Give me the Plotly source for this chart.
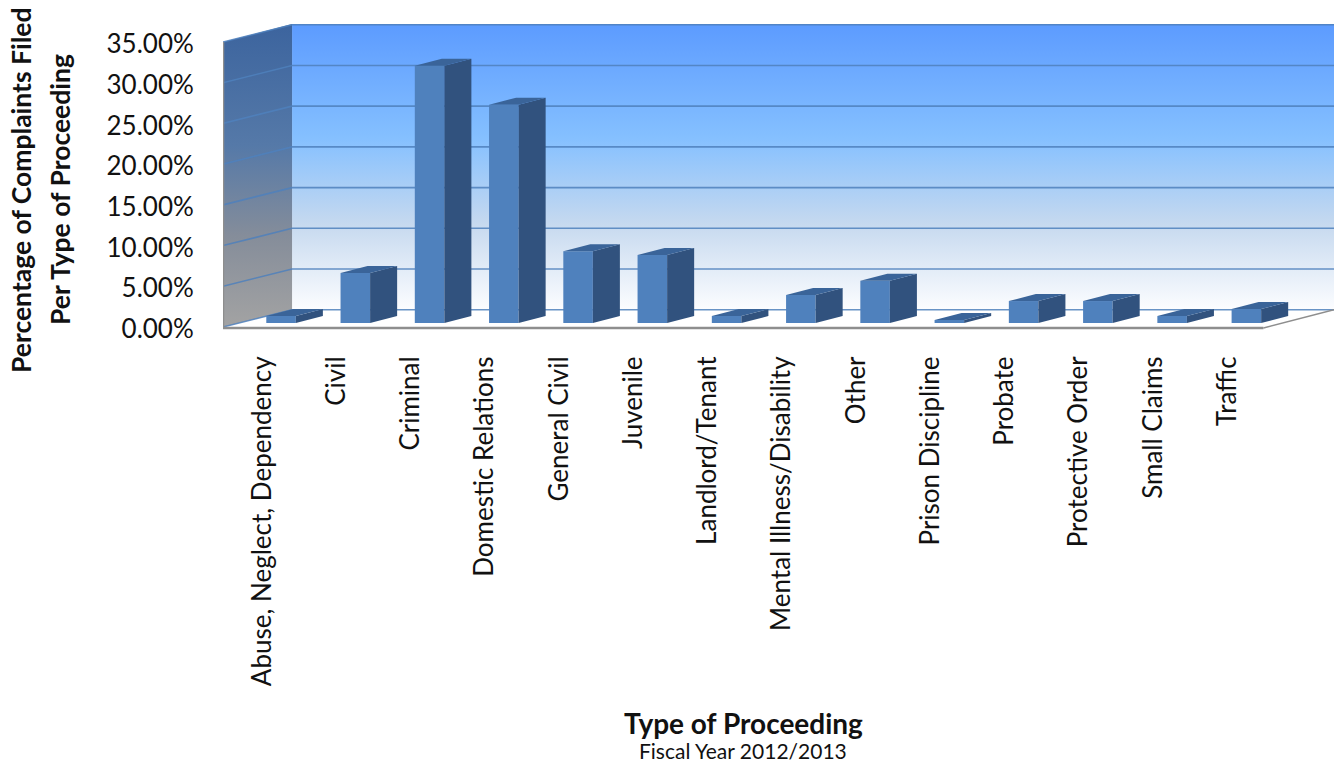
import plotly.graph_objects as go

categories = [
    "Abuse, Neglect, Dependency", "Civil", "Criminal", "Domestic Relations",
    "General Civil", "Juvenile", "Landlord/Tenant", "Mental Illness/Disability",
    "Other", "Prison Discipline", "Probate", "Protective Order",
    "Small Claims", "Traffic",
]
percent_filed = [0.86, 6.14, 31.6, 26.8, 8.8, 8.35, 0.86, 3.44, 5.2, 0.37, 2.7, 2.7, 0.86, 1.72]
y_ticks = [0, 5, 10, 15, 20, 25, 30, 35]
y_tick_labels = ["0.00%", "5.00%", "10.00%", "15.00%", "20.00%", "25.00%", "30.00%", "35.00%"]

# Projection constants for the pseudo-3D box, in axis units
WALL_LEFT, WALL_FRONT_RIGHT, WALL_RIGHT = -0.782, 13.23, 14.18
DEPTH_X, DEPTH_Y = 0.93, 2.12
FLOOR_EDGE = -0.12
BAR_LIFT = 0.49
BAR_WIDTH = 0.398
BAR_DX, BAR_DY = 0.364, 0.86
Y_BOTTOM, Y_TOP = -0.49, 37.21
LABEL_SHIFT = -0.256

# Plot area on the page, in pixels
PLOT_LEFT, PLOT_WIDTH = 223, 1111
PLOT_TOP, PLOT_BOTTOM = 24, 331

FRONT, SIDE, TOP = "#4F81BD", "#31527E", "#3A6499"
GRID = "#4F81BD"
EDGE = "#8E8E8E"
FONT = "Lato, 'Open Sans', sans-serif"
TEXT = "#111111"

positions = list(range(len(categories)))
back_left = WALL_LEFT + DEPTH_X
fig = go.Figure()

# Back wall with its sky gradient
fig.add_trace(go.Scatter(
    x=[back_left, WALL_RIGHT, WALL_RIGHT, back_left, back_left],
    y=[DEPTH_Y, DEPTH_Y, Y_TOP, Y_TOP, DEPTH_Y],
    mode="lines", line=dict(width=0), fill="toself", hoverinfo="skip",
    fillgradient=dict(type="vertical", start=DEPTH_Y, stop=Y_TOP, colorscale=[
        [0.0, "#FCFDFF"], [0.30, "#C6D9EF"], [0.60, "#85C0FF"], [1.0, "#5C9BFF"]]),
))
# Left side wall, fading from grey at the floor to dark blue
fig.add_trace(go.Scatter(
    x=[WALL_LEFT, back_left, back_left, WALL_LEFT, WALL_LEFT],
    y=[0, DEPTH_Y, Y_TOP, y_ticks[-1], 0],
    mode="lines", line=dict(width=0), fill="toself", hoverinfo="skip",
    fillgradient=dict(type="vertical", start=0, stop=Y_TOP, colorscale=[
        [0.0, "#A3A3A3"], [0.30, "#858D9A"], [0.60, "#5579A8"], [1.0, "#3C649E"]]),
))

# Gridlines run across the side wall and then along the back wall
grid_x, grid_y = [], []
for v in y_ticks:
    grid_x += [WALL_LEFT, back_left, WALL_RIGHT, None]
    grid_y += [v, v + DEPTH_Y, v + DEPTH_Y, None]
fig.add_trace(go.Scatter(x=grid_x, y=grid_y, mode="lines", hoverinfo="skip",
                         line=dict(color=GRID, width=1.6), opacity=0.85))

# Floor edges and the left wall edge
fig.add_trace(go.Scatter(x=[WALL_LEFT, WALL_LEFT, WALL_FRONT_RIGHT], y=[y_ticks[-1], FLOOR_EDGE, FLOOR_EDGE],
                         mode="lines", line=dict(color=EDGE, width=2.5),
                         hoverinfo="skip", cliponaxis=False))
fig.add_trace(go.Scatter(x=[WALL_FRONT_RIGHT, WALL_RIGHT], y=[FLOOR_EDGE, DEPTH_Y],
                         mode="lines", line=dict(color=EDGE, width=1.5),
                         hoverinfo="skip", cliponaxis=False))

# Front faces are real bars on an overlaid pair of axes
fig.add_trace(go.Bar(x=positions, y=percent_filed, base=BAR_LIFT, width=BAR_WIDTH,
                     marker=dict(color=FRONT, line=dict(width=0)),
                     xaxis="x2", yaxis="y2",
                     hovertext=categories, hoverinfo="text+y"))

# Side and top faces extruded from the same values
side_x, side_y, top_x, top_y = [], [], [], []
half = BAR_WIDTH / 2
for pos, val in zip(positions, percent_filed):
    left, right, low, high = pos - half, pos + half, BAR_LIFT, BAR_LIFT + val
    side_x += [right, right + BAR_DX, right + BAR_DX, right, right, None]
    side_y += [low, low + BAR_DY, high + BAR_DY, high, low, None]
    top_x += [left, left + BAR_DX, right + BAR_DX, right, left, None]
    top_y += [high, high + BAR_DY, high + BAR_DY, high, high, None]
fig.add_trace(go.Scatter(x=side_x, y=side_y, mode="lines", line=dict(width=0),
                         fill="toself", fillcolor=SIDE, hoverinfo="skip",
                         xaxis="x2", yaxis="y2"))
fig.add_trace(go.Scatter(x=top_x, y=top_y, mode="lines", line=dict(width=0),
                         fill="toself", fillcolor=TOP, hoverinfo="skip",
                         xaxis="x2", yaxis="y2"))

x_range = [WALL_LEFT, WALL_RIGHT]
y_range = [Y_BOTTOM, Y_TOP]


def title_note(text, x_px, y_px, size, bold=False, angle=0):
    # Place a title by its page position, converted to paper coordinates
    label = f"<b>{text}</b>" if bold else text
    return dict(text=label, x=(x_px - PLOT_LEFT) / PLOT_WIDTH,
                y=(PLOT_BOTTOM - y_px) / (PLOT_BOTTOM - PLOT_TOP),
                xref="paper", yref="paper", xanchor="center", yanchor="middle",
                showarrow=False, textangle=angle,
                font=dict(family=FONT, size=size, color=TEXT))


fig.update_layout(
    width=1334, height=765,
    margin=dict(l=PLOT_LEFT, r=0, t=PLOT_TOP, b=765 - PLOT_BOTTOM, autoexpand=False),
    paper_bgcolor="white", plot_bgcolor="white",
    showlegend=False,
    font=dict(family=FONT, color=TEXT),
    xaxis=dict(
        range=x_range, showgrid=False, zeroline=False, showline=False,
        tickmode="array", tickvals=[p + LABEL_SHIFT for p in positions], ticktext=categories,
        tickangle=-90, ticks="outside", ticklen=14, tickcolor="rgba(0,0,0,0)",
        tickfont=dict(family=FONT, size=26, color=TEXT),
    ),
    yaxis=dict(
        range=y_range, showgrid=False, zeroline=False, showline=False,
        tickmode="array", tickvals=y_ticks, ticktext=y_tick_labels,
        ticks="outside", ticklen=23, tickcolor="rgba(0,0,0,0)", ticklabelshift=2,
        tickfont=dict(family=FONT, size=26, color=TEXT),
    ),
    xaxis2=dict(range=x_range, overlaying="x", visible=False),
    yaxis2=dict(range=y_range, overlaying="y", visible=False),
    annotations=[
        title_note("Percentage of Complaints Filed", 21, 190, 26.5, bold=True, angle=-90),
        title_note("Per Type of Proceeding", 60, 190, 26.5, bold=True, angle=-90),
        title_note("Type of Proceeding", 743, 723, 28, bold=True),
        title_note("Fiscal Year 2012/2013", 743, 751, 21),
    ],
)

fig.write_html("out.html")
